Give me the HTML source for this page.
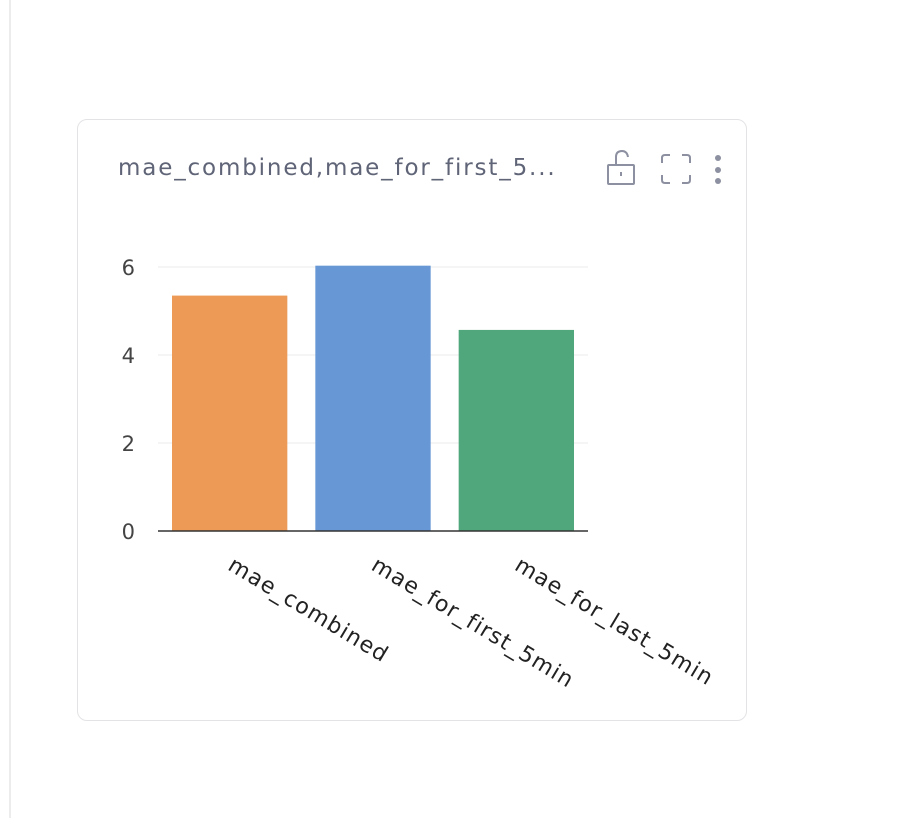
<!DOCTYPE html>
<html><head><meta charset="utf-8"><style>
body{margin:0;width:914px;height:818px;background:#fff;position:relative;overflow:hidden;font-family:"DejaVu Sans",sans-serif}
#vline{position:absolute;left:9px;top:0;width:2px;height:818px;background:#ececec}
#card{position:absolute;left:77px;top:119px;width:668px;height:600px;border:1px solid #e3e3e6;border-radius:10px;box-sizing:content-box}
#title{position:absolute;left:118px;top:155px;font-size:23px;letter-spacing:1.85px;color:#5f6477;white-space:nowrap}
</style></head><body>
<div id="vline"></div>
<div id="card"></div>
<div id="title">mae_combined,mae_for_first_5...</div>
<svg width="914" height="818" style="position:absolute;left:0;top:0" id="svg">
<g fill="none" stroke="#8c90a0" stroke-width="2">
<rect x="608" y="165" width="26" height="19" rx="1"/>
<path d="M616 165 V157 Q616 151 622 151 Q627 151 628 157"/>
<line x1="621" y1="172" x2="621" y2="176"/>
</g>
<g fill="none" stroke="#8c90a0" stroke-width="2">
<path d="M662 163 V158 Q662 155 665 155 H670 M682 155 H687 Q690 155 690 158 V163 M690 175 V180 Q690 183 687 183 H682 M670 183 H665 Q662 183 662 180 V175"/>
</g>
<g fill="#8c90a0">
<circle cx="718" cy="158" r="3"/><circle cx="718" cy="170" r="3"/><circle cx="718" cy="181" r="3"/>
</g>
<g id="chart"></g>
</svg>
<script>
const categories=["mae_combined","mae_for_first_5min","mae_for_last_5min"];
const values=[5.35,6.03,4.57];
const yTicks=[0,2,4,6];
const colors=["#ec9a55","#6798d5","#51a77c"];
const ns="http://www.w3.org/2000/svg";
const g=document.getElementById('chart');
const x0=158,x1=588,y0=531,pxPerUnit=44;
const y=v=>y0-v*pxPerUnit;
const band=(x1-x0)/categories.length;
function mk(t,a){const e=document.createElementNS(ns,t);for(const k in a)e.setAttribute(k,a[k]);g.appendChild(e);return e;}
yTicks.forEach(t=>{
  if(t>0){const l=mk('line',{x1:x0,x2:x1,y1:y(t),y2:y(t),stroke:'#ebebeb','stroke-width':1});
  
  }
  const tx=mk('text',{x:135,y:y(t)+8,'text-anchor':'end','font-size':21,fill:'#444','font-family':'DejaVu Sans, sans-serif'});
  tx.textContent=t;
  
  
});
categories.forEach((c,i)=>{
  const bx=x0+band*i+14,bw=band-28;
  const r=mk('rect',{x:bx,y:y(values[i]),width:bw,height:y0-y(values[i]),fill:colors[i]});
  
  
  const cx=x0+band*i+band/2;
  const tx=mk('text',{x:0,y:0,transform:`translate(${cx-3},${y0+38}) rotate(31)`,'font-size':22,'letter-spacing':1.2,fill:'#222','font-family':'DejaVu Sans, sans-serif'});
  tx.textContent=c;
  
  
});
const ax=mk('line',{x1:x0,x2:x1,y1:y0,y2:y0,stroke:'#333','stroke-width':1.5});


</script>
</body></html>
